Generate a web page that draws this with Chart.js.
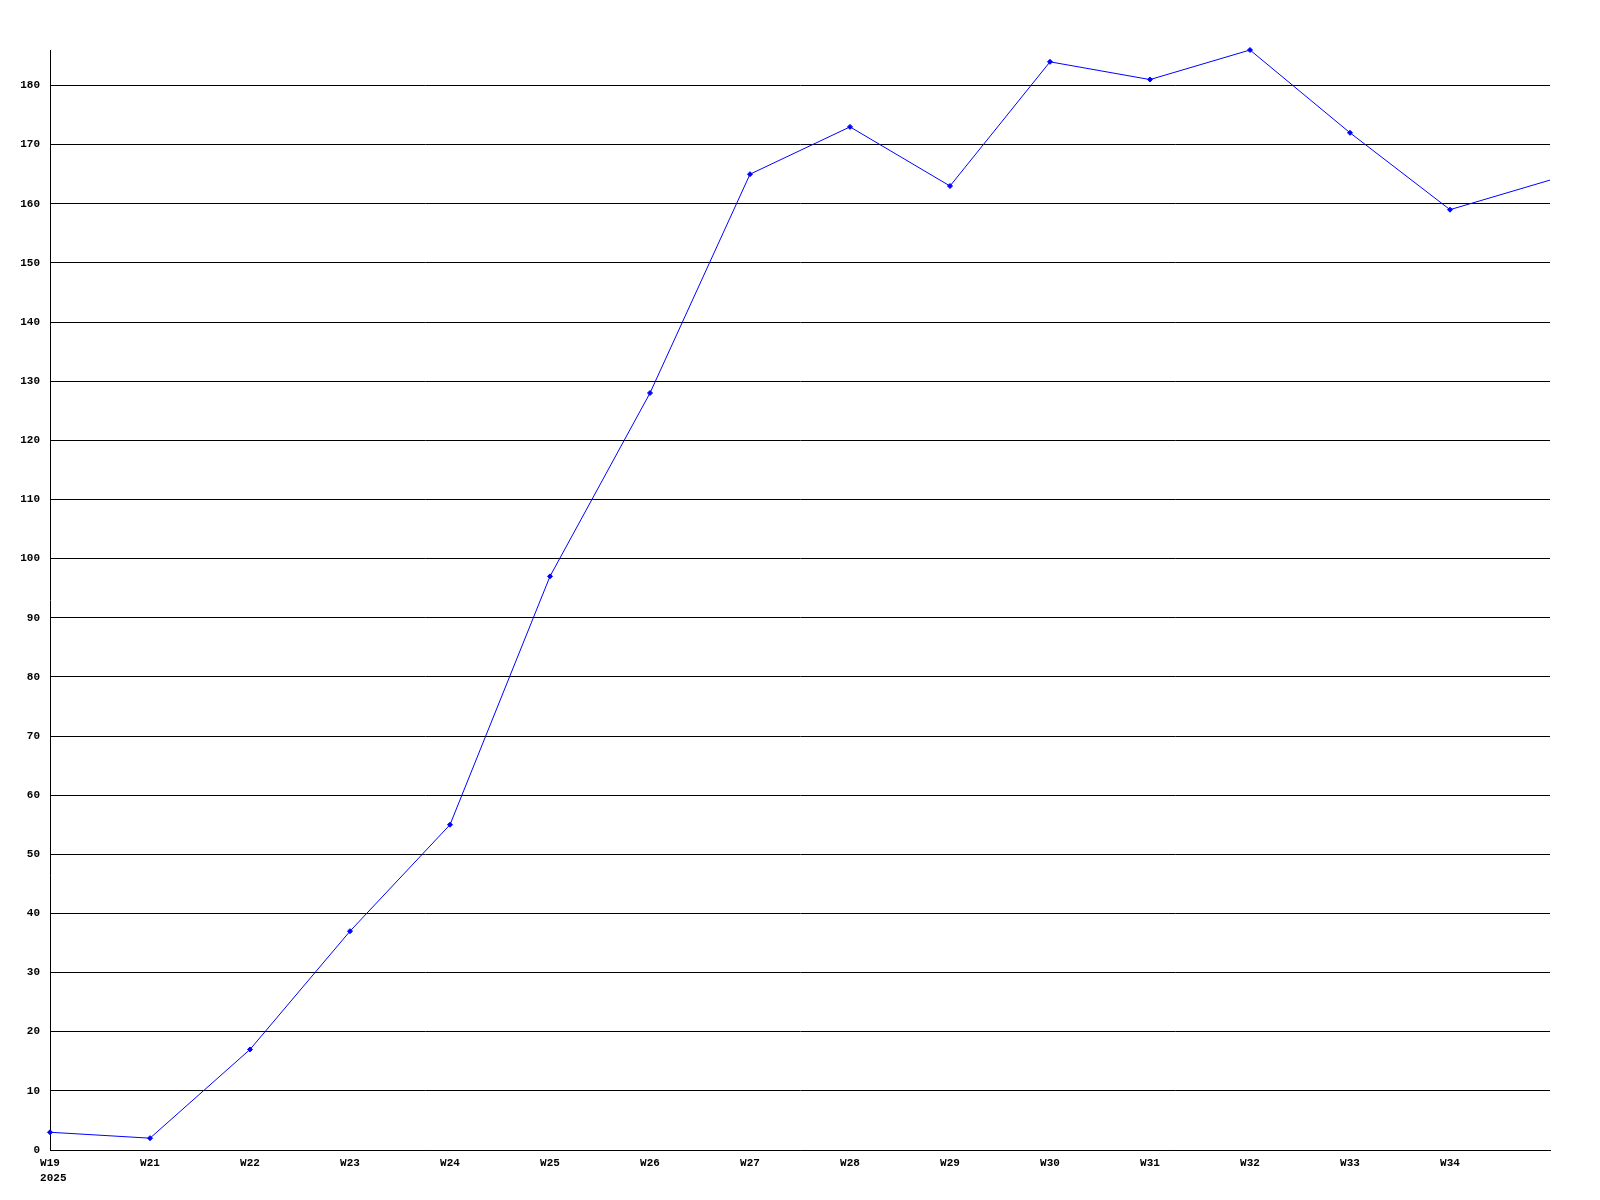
<!DOCTYPE html>
<html>
<head>
<meta charset="utf-8">
<title>Weekly count</title>
<script src="https://cdn.jsdelivr.net/npm/chart.js@4/dist/chart.umd.min.js"></script>
<style>
  body { margin: 0; background: #fff; }
  canvas { display: block; }
</style>
</head>
<body>
<canvas id="weekChart" width="1600" height="1200"></canvas>
<script>
// Week labels (first one carries the year underneath, last point is unlabeled)
const weekLabels = [['W19', ' 2025'], 'W21', 'W22', 'W23', 'W24', 'W25', 'W26', 'W27',
  'W28', 'W29', 'W30', 'W31', 'W32', 'W33', 'W34', ''];

// Values
const weekValues = [3, 2, 17, 37, 55, 97, 128, 165, 173, 163, 184, 181, 186, 172, 159, 164];

// Y axis range
const yMin = 0;
const yMax = 186;
const yStep = 10;

const tickFont = { family: 'Liberation Mono', size: 11, weight: 'bold', lineHeight: '15px' };

const ctx = document.getElementById('weekChart').getContext('2d');
new Chart(ctx, {
  type: 'line',
  data: {
    labels: weekLabels,
    datasets: [{
      data: weekValues,
      borderColor: '#0000ff',
      backgroundColor: '#0000ff',
      borderWidth: 1,
      pointStyle: 'rectRot',
      // no marker on the trailing (unlabeled) point
      pointRadius: (c) => c.dataIndex === weekValues.length - 1 ? 0 : 2.5,
      pointBorderWidth: 1,
      fill: false,
      tension: 0,
      clip: false
    }]
  },
  options: {
    responsive: false,
    animation: false,
    events: [],
    layout: {
      padding: { top: 50, right: 50, bottom: 0, left: 0 }
    },
    plugins: {
      legend: { display: false },
      tooltip: { enabled: false }
    },
    scales: {
      x: {
        offset: false,
        grid: { display: false, drawTicks: false },
        border: { display: true, color: '#000', width: 1 },
        ticks: {
          color: '#000',
          font: tickFont,
          padding: 6,
          maxRotation: 0,
          autoSkip: false
        },
        afterFit: (scale) => { scale.height = 50; }
      },
      y: {
        min: yMin,
        max: yMax,
        grid: { color: '#000', lineWidth: 1, drawTicks: false },
        border: { display: true, color: '#000', width: 1 },
        ticks: {
          stepSize: yStep,
          includeBounds: false,
          color: '#000',
          font: tickFont,
          padding: 10
        },
        afterFit: (scale) => { scale.width = 50; }
      }
    }
  }
});
</script>
</body>
</html>
